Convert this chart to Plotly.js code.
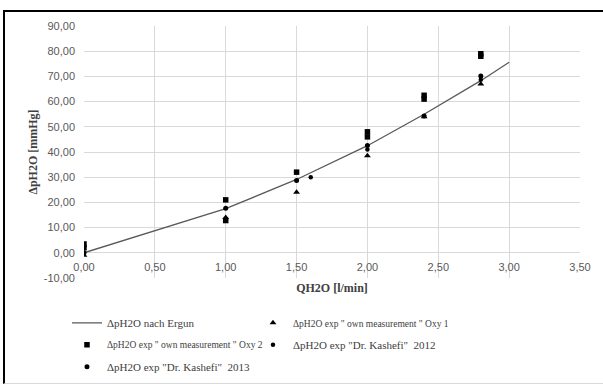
<!DOCTYPE html>
<html>
<head>
<meta charset="utf-8">
<script src="https://cdn.plot.ly/plotly-3.0.1.min.js"></script>
<style>
  html, body { margin: 0; padding: 0; background: #fff; }
  #wrap { position: relative; width: 603px; height: 385px; overflow: hidden; }
  #chart { width: 603px; height: 385px; }
  #frame { position: absolute; left: 3px; top: 10px; right: -5px; bottom: 1px;
           border-top: 2px solid #000; border-left: 2px solid #000; border-bottom: 1px solid #d9d9d9;
           pointer-events: none; }
</style>
</head>
<body>
<div id="wrap"><div id="chart"></div><div id="frame"></div></div>
<script>
// Ergun model curve
const ergunQ  = [0, 1, 1.5, 2, 2.4, 2.8, 3];
const ergunDp = [0, 17.5, 29.1, 42.5, 55.0, 68.3, 75.6];

// own measurement Oxy 1 (triangles)
const oxy1Q  = [0, 1, 1.5, 2, 2.4, 2.8];
const oxy1Dp = [-1, 14, 24, 38.5, 54, 67];

// own measurement Oxy 2 (squares)
const oxy2Q  = [0, 0, 1, 1, 1.5, 2, 2, 2.4, 2.4, 2.8, 2.8];
const oxy2Dp = [3.5, 2, 21, 12.8, 32, 48, 46, 62.5, 61, 79, 78];

// Dr. Kashefi 2012
const kas12Q  = [0, 1.6, 2, 2.8];
const kas12Dp = [0, 30, 41, 68.7];

// Dr. Kashefi 2013
const kas13Q  = [0, 1, 1.5, 2, 2.4, 2.8];
const kas13Dp = [0, 17.7, 28.7, 42.6, 54.3, 70.2];

const names = [
  'ΔpH2O nach Ergun',
  'ΔpH2O exp " own measurement " Oxy 1',
  'ΔpH2O exp " own measurement " Oxy 2',
  'ΔpH2O exp "Dr. Kashefi"  2012',
  'ΔpH2O exp "Dr. Kashefi"  2013'
];

const xTicks = [0, 0.5, 1, 1.5, 2, 2.5, 3, 3.5];
const xTickText = ['0,00', '0,50', '1,00', '1,50', '2,00', '2,50', '3,00', '3,50'];
const yTicks = [-10, 0, 10, 20, 30, 40, 50, 60, 70, 80, 90];
const yTickText = ['-10,00', '0,00', '10,00', '20,00', '30,00', '40,00', '50,00', '60,00', '70,00', '80,00', '90,00'];

const traces = [
  { x: ergunQ, y: ergunDp, name: names[0], type: 'scatter', mode: 'lines',
    line: { color: '#595959', width: 1.3 }, legend: 'legend' },
  { x: oxy1Q, y: oxy1Dp, name: names[1], type: 'scatter', mode: 'markers',
    marker: { symbol: 'triangle-up', size: 6, color: '#000' }, legend: 'legend2' },
  { x: oxy2Q, y: oxy2Dp, name: names[2], type: 'scatter', mode: 'markers',
    marker: { symbol: 'square', size: 5.5, color: '#000' }, legend: 'legend3' },
  { x: kas12Q, y: kas12Dp, name: names[3], type: 'scatter', mode: 'markers',
    marker: { symbol: 'circle', size: 4.5, color: '#000' }, legend: 'legend4' },
  { x: kas13Q, y: kas13Dp, name: names[4], type: 'scatter', mode: 'markers',
    marker: { symbol: 'circle', size: 5, color: '#000' }, legend: 'legend5' }
];

function leg(x, y, size) {
  return { x: x, y: y, xanchor: 'left', yanchor: 'middle', xref: 'paper', yref: 'paper',
           bgcolor: 'rgba(0,0,0,0)', borderwidth: 0,
           font: { family: 'Liberation Serif, serif', size: size, color: '#404040' } };
}
const col1 = -0.0343, col2 = 0.3407;
const row1 = -0.178, row2 = -0.265, row3 = -0.352;

const tickFont = { family: 'Liberation Sans, Arial, sans-serif', size: 11, color: '#595959' };
const titleFont = { family: 'Liberation Serif, serif', size: 12, color: '#404040', weight: 'bold' };

const layout = {
  width: 603, height: 385,
  paper_bgcolor: '#fff', plot_bgcolor: '#fff',
  margin: { l: 84, r: 23, t: 25.5, b: 107, autoexpand: false },
  showlegend: true,
  xaxis: {
    range: [0, 3.5], tickmode: 'array', tickvals: xTicks, ticktext: xTickText,
    anchor: 'free', position: 0.1,
    showgrid: true, gridcolor: '#d9d9d9', gridwidth: 1,
    zeroline: false, showline: false, ticks: '',
    tickfont: tickFont, ticklabelstandoff: 6,
    title: { text: '<b>QH2O [l/min]</b>', font: titleFont, standoff: 11 }
  },
  yaxis: {
    range: [-10, 90], tickmode: 'array', tickvals: yTicks, ticktext: yTickText,
    showgrid: true, gridcolor: '#d9d9d9', gridwidth: 1,
    zeroline: false, showline: false, ticks: '',
    tickfont: tickFont, ticklabelstandoff: 8,
    title: { text: '<b>ΔpH2O [mmHg]</b>', font: titleFont, standoff: 3 }
  },
  legend: leg(col1, row1, 11),
  legend2: leg(col2, row1, 9.5),
  legend3: leg(col1, row2, 9.5),
  legend4: leg(col2, row2, 11),
  legend5: leg(col1, row3, 11)
};

Plotly.newPlot('chart', traces, layout, { staticPlot: true, displayModeBar: false });
</script>
</body>
</html>
